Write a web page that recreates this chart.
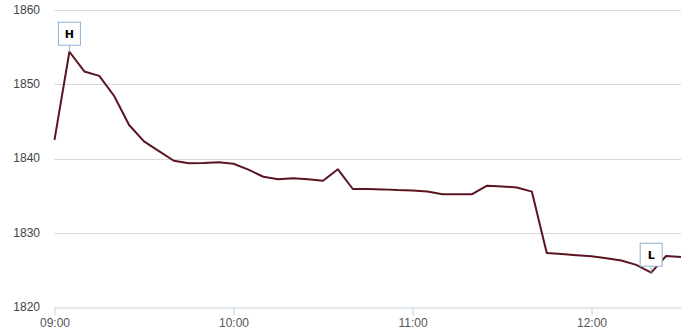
<!DOCTYPE html>
<html>
<head>
<meta charset="utf-8">
<script src="https://cdn.jsdelivr.net/npm/d3@7"></script>
<style>
  body { margin: 0; background: #fff; }
  svg { display: block; }
</style>
</head>
<body>
<div id="chart"></div>
<script>
const w = 687;
const h = 335;

const margin = { top: 9.7, right: 6, bottom: 27.7, left: 54.5 };

// 5-minute quotes
const times = [
	'09:00', '09:05', '09:10', '09:15', '09:20', '09:25', '09:30', '09:35', '09:40', '09:45',
	'09:50', '09:55', '10:00', '10:05', '10:10', '10:15', '10:20', '10:25', '10:30', '10:35',
	'10:40', '10:45', '10:50', '10:55', '11:00', '11:05', '11:10', '11:15', '11:20', '11:25',
	'11:30', '11:35', '11:40', '11:45', '11:50', '11:55', '12:00', '12:05', '12:10', '12:15',
	'12:20', '12:25', '12:30',
];
const prices = [
	1842.5, 1854.35, 1851.7, 1851.1, 1848.4, 1844.5, 1842.3, 1841.0, 1839.7, 1839.35,
	1839.4, 1839.5, 1839.3, 1838.5, 1837.55, 1837.2, 1837.35, 1837.2, 1837.0, 1838.55,
	1835.9, 1835.9, 1835.85, 1835.75, 1835.7, 1835.55, 1835.2, 1835.2, 1835.2, 1836.35,
	1836.25, 1836.1, 1835.55, 1827.3, 1827.15, 1827.0, 1826.85, 1826.6, 1826.3, 1825.7,
	1824.65, 1826.9, 1826.75,
];
const yTicks = [1820, 1830, 1840, 1850, 1860];
const xTicks = ['09:00', '10:00', '11:00', '12:00'];

const parseTime = d3.timeParse('%H:%M');
const data = times.map((t, i) => ({ t: parseTime(t), v: prices[i] }));

const svg = d3
	.select('#chart')
	.append('svg')
	.attr('width', w)
	.attr('height', h);

const x = d3
	.scaleTime()
	.domain([parseTime('09:00'), parseTime('12:30')])
	.range([margin.left, w - margin.right]);

const y = d3
	.scaleLinear()
	.domain([1820, 1860])
	.range([h - margin.bottom, margin.top]);

// horizontal grid
svg
	.append('g')
	.selectAll('line')
	.data(yTicks.slice(1))
	.enter()
	.append('line')
	.attr('x1', margin.left)
	.attr('x2', w - margin.right)
	.attr('y1', d => Math.round(y(d)) + 0.5)
	.attr('y2', d => Math.round(y(d)) + 0.5)
	.attr('stroke', '#d9d9d9')
	.attr('stroke-width', 1);

// y labels
svg
	.append('g')
	.selectAll('text')
	.data(yTicks)
	.enter()
	.append('text')
	.attr('x', 40)
	.attr('y', d => y(d) + 3.8)
	.attr('text-anchor', 'end')
	.style('font-family', '"Liberation Sans", Arial, sans-serif')
	.style('font-size', '12px')
	.attr('fill', '#444')
	.text(d => d);

// x axis
const xAxis = d3
	.axisBottom(x)
	.tickValues(xTicks.map(parseTime))
	.tickFormat(d3.timeFormat('%H:%M'))
	.tickSize(8)
	.tickSizeOuter(0);

const gx = svg
	.append('g')
	.attr('transform', `translate(0, ${Math.round(y(1820)) + 0.5})`)
	.call(xAxis);

gx.select('.domain').attr('stroke', '#c4d2dd');
gx.selectAll('.tick line').attr('stroke', '#c4d2dd');
gx.selectAll('.tick text')
	.attr('y', 11)
	.style('font-family', '"Liberation Sans", Arial, sans-serif')
	.style('font-size', '12px')
	.attr('fill', '#555');

// price line
const line = d3
	.line()
	.x(d => x(d.t))
	.y(d => y(d.v));

svg
	.append('path')
	.datum(data)
	.attr('d', line)
	.attr('fill', 'none')
	.attr('stroke', '#5a1520')
	.attr('stroke-width', 2)
	.attr('stroke-linejoin', 'round');

// high / low flags
const hi = data.reduce((a, b) => (b.v > a.v ? b : a));
const lo = data.reduce((a, b) => (b.v < a.v ? b : a));

const flags = [
	{ d: hi, label: 'H' },
	{ d: lo, label: 'L' },
];

const flag = svg
	.append('g')
	.selectAll('g')
	.data(flags)
	.enter()
	.append('g')
	.attr('transform', f => `translate(${x(f.d.t)}, ${y(f.d.v)})`);

flag
	.append('line')
	.attr('x1', 0)
	.attr('x2', 0)
	.attr('y1', 0)
	.attr('y2', -6)
	.attr('stroke', '#8db2d4');

flag
	.append('rect')
	.attr('x', -11)
	.attr('y', -29.5)
	.attr('width', 22)
	.attr('height', 23)
	.attr('fill', '#fff')
	.attr('stroke', '#8db2d4')
	.attr('stroke-width', 1);

flag
	.append('text')
	.attr('x', 0)
	.attr('y', -14)
	.attr('text-anchor', 'middle')
	.style('font-family', '"DejaVu Sans", Verdana, sans-serif')
	.style('font-size', '11px')
	.style('font-weight', 'bold')
	.attr('fill', '#000')
	.text(f => f.label);
</script>
</body>
</html>
